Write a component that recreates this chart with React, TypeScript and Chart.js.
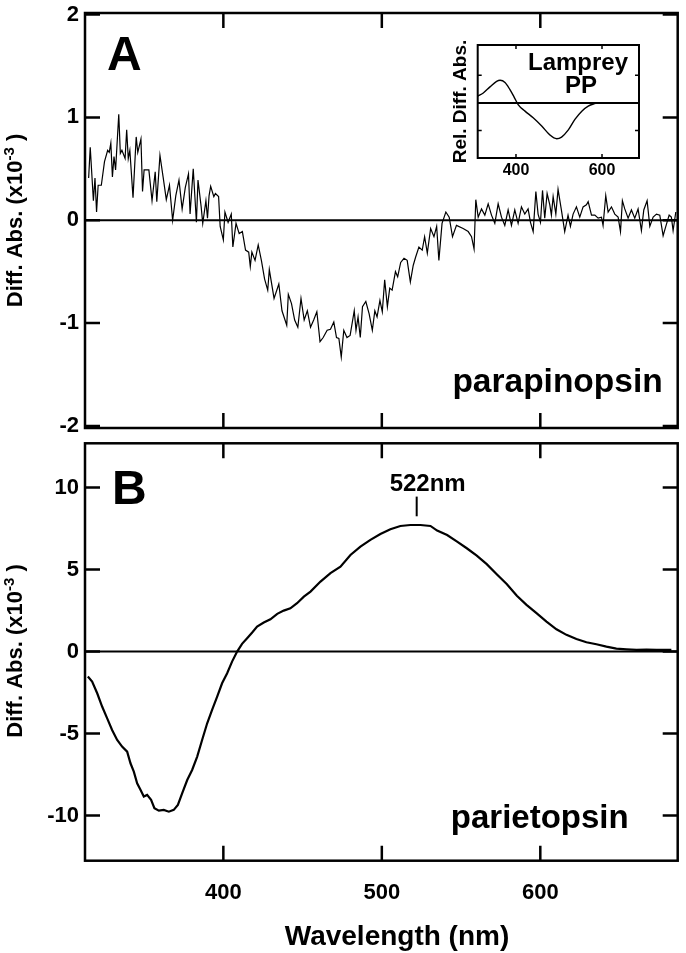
import React, { useEffect, useRef } from "react";
import { Chart, registerables } from "chart.js";

Chart.register(...registerables);

// ---------------- data ----------------
const X_MIN = 312.7;
const X_MAX = 686.7;
const xTicks = [400, 500, 600];
const yTicksA = [-2, -1, 0, 1, 2];
const yTicksB = [-10, -5, 0, 5, 10];
const insetXTicks = [400, 600];
const insetYTicks = [-0.5, 0, 0.5];

// Panel A: parapinopsin difference spectrum (x10^-3)
const wlA = [
  315, 316, 318, 319, 320, 321, 323, 325, 327, 328, 329, 330, 331, 332, 334, 335, 336, 338, 339, 340,
  341, 343, 345, 346, 348, 349, 350, 353, 355, 357, 358, 360, 362, 364, 366, 368, 370, 372, 374, 376,
  378, 379, 381, 383, 384, 386, 387, 389, 390, 391, 392, 394, 395, 397, 398, 400, 401, 403, 405, 406,
  408, 410, 412, 414, 416, 417, 418, 420, 422, 424, 426, 428, 429, 432, 435, 437, 440, 441, 443, 445,
  447, 449, 451, 453, 455, 457, 459, 461, 463, 465.5, 467.6, 469.7, 471.4, 472.9, 474.4, 476, 478, 480, 482.6, 483.7,
  485, 486.4, 487.8, 489.9, 492, 494, 495.6, 497, 498.8, 500.3, 501.8, 503.5, 505, 506.5, 508.6, 510, 511.9, 514, 516, 518,
  519.8, 521.3, 523.4, 525.5, 527, 528.7, 530.8, 532.9, 534.6, 536, 538, 540.4, 542.5, 544.6, 547.1, 551.3, 554.5, 556.6, 558.2, 559.3,
  560.8, 562.9, 565, 567.1, 569.2, 571.3, 573.4, 575.5, 577.6, 579.7, 581.8, 583.9, 586, 588.1, 590.2, 592.3, 593.8, 595.5, 597.2, 598.6,
  600.1, 601.4, 602.8, 604.3, 606, 607, 608.1, 609.8, 611.2, 613.3, 615.4, 617.5, 619, 620.7, 622.8, 624.9, 627, 629.1, 630.2, 632.3,
  634.4, 636.5, 638.6, 639.6, 641.3, 642.8, 644.9, 647, 649.1, 650.6, 651.8, 653.3, 655.4, 657.5, 659.6, 661.7, 663.8, 665.3, 667.4, 669.1,
  671.2, 673.3, 675.4, 677.5, 679.2, 681.3, 682.7, 683.8, 685.5,
];
const absA = [
  0.41, 0.71, 0.19, 0.41, 0.08, 0.34, 0.34, 0.57, 0.68, 0.66, 0.75, 0.42, 0.62, 0.49, 1.03, 0.65, 0.68, 0.6, 0.88, 0.6,
  0.68, 0.22, 0.81, 0.66, 0.79, 0.28, 0.49, 0.49, 0.19, 0.47, 0.18, 0.63, 0.42, 0.2, 0.34, 0.0, 0.24, 0.39, 0.11, 0.32,
  0.45, 0.06, 0.5, -0.02, 0.39, 0.13, -0.03, 0.19, 0.02, 0.24, 0.33, 0.23, 0.26, 0.23, -0.06, -0.19, 0.08, -0.02, 0.06, -0.26,
  -0.03, -0.13, -0.11, -0.29, -0.31, -0.45, -0.31, -0.39, -0.24, -0.39, -0.57, -0.68, -0.48, -0.76, -0.62, -0.88, -1.02, -0.72, -0.81, -0.97,
  -1.04, -0.76, -0.97, -0.88, -1.04, -0.97, -0.89, -1.18, -1.14, -1.07, -1.06, -0.99, -1.14, -1.15, -1.33, -1.07, -1.14, -1.12, -0.88, -1.07,
  -0.94, -1.14, -0.84, -0.79, -0.91, -1.07, -0.88, -0.94, -0.78, -0.89, -0.58, -0.84, -0.66, -0.68, -0.5, -0.55, -0.41, -0.37, -0.39, -0.6,
  -0.44, -0.36, -0.26, -0.29, -0.16, -0.32, -0.08, -0.16, -0.06, -0.39, -0.03, 0.08, 0.03, -0.16, -0.05, -0.08, -0.11, -0.16, -0.28, 0.2,
  0.03, 0.11, 0.05, 0.16, 0.05, -0.03, 0.16, 0.03, -0.05, 0.1, -0.05, 0.1, -0.03, 0.13, 0.06, 0.11, -0.02, -0.11, 0.28, 0.06,
  -0.02, 0.29, 0.02, 0.26, 0.15, 0.05, 0.23, 0.06, 0.3, 0.1, -0.11, 0.05, -0.06, 0.06, 0.13, 0.03, 0.13, 0.15, 0.18, 0.05,
  0.05, 0.02, 0.03, -0.05, 0.24, 0.08, 0.13, 0.06, 0.03, -0.11, 0.19, 0.11, 0.02, 0.1, 0.02, 0.11, -0.1, 0.1, 0.19, -0.06,
  0.03, 0.06, 0.05, -0.15, -0.06, 0.05, 0.03, -0.1, 0.08,
];

// Panel B: parietopsin difference spectrum (x10^-3)
const wlB = [
  314.5, 317.2, 320.4, 323.5, 326.7, 329.8, 333, 336.1, 339.3, 341.4, 343.5, 345.6, 347.7, 349.8, 351.9, 354.4, 356.5, 359.3, 362.4, 365.6,
  368.7, 371.3, 374, 377.2, 380.3, 383.5, 386.6, 389.8, 392.9, 396.1, 399.2, 402.4, 405.5, 408.7, 411.8, 415, 418.2, 421.3, 425.5, 429.7,
  434, 438.1, 442.3, 446.5, 450.8, 455, 461.3, 467.6, 473.9, 480.2, 486.5, 492.8, 499.1, 505.4, 511.7, 518, 524.4, 530.7, 534.9, 541.2,
  547.5, 553.6, 559.9, 566.2, 572.5, 578.8, 585.2, 591.3, 597.6, 603.9, 610.2, 616.5, 622.8, 629.1, 635.4, 641.7, 648, 654.4, 660.7, 667,
  673.3, 682.7,
];
const absB = [
  -1.52, -1.83, -2.54, -3.35, -4.07, -4.78, -5.39, -5.79, -6.1, -6.81, -7.32, -8.03, -8.43, -8.84, -8.74, -9.04, -9.55, -9.7, -9.65, -9.76,
  -9.65, -9.35, -8.64, -7.83, -7.22, -6.4, -5.39, -4.37, -3.56, -2.74, -1.93, -1.32, -0.61, 0.0, 0.47, 0.81, 1.16, 1.52, 1.77, 1.97,
  2.3, 2.5, 2.64, 2.95, 3.35, 3.66, 4.27, 4.78, 5.18, 5.89, 6.4, 6.81, 7.17, 7.46, 7.66, 7.72, 7.72, 7.66, 7.38, 7.11,
  6.71, 6.3, 5.85, 5.33, 4.72, 4.12, 3.4, 2.85, 2.34, 1.83, 1.36, 1.02, 0.77, 0.57, 0.45, 0.3, 0.18, 0.14, 0.1, 0.12,
  0.1, 0.1,
];

// Inset: lamprey parapinopsin (relative)
const wlInset = [311, 324, 339.6, 355, 363, 374.5, 386, 395.4, 405, 421, 440, 459.8, 478.6, 494.7, 506, 521.7, 537, 553, 568, 580, 591, 600];
const absInset = [0.12, 0.18, 0.29, 0.39, 0.41, 0.37, 0.24, 0.11, -0.03, -0.15, -0.27, -0.42, -0.58, -0.65, -0.62, -0.49, -0.3, -0.15, -0.06, -0.02, 0, 0];

const PEAK_NM = 522;
const PEAK_LABEL = "522nm";

// ---------------- drawing helpers ----------------
const FONT = "'Liberation Sans', Arial, Helvetica, sans-serif";

function drawYTitle(ctx: CanvasRenderingContext2D, x: number, y: number) {
  const main = "Diff. Abs. (x10";
  const sup = "-3";
  const end = " )";
  ctx.save();
  ctx.translate(x, y);
  ctx.rotate(-Math.PI / 2);
  ctx.fillStyle = "#000";
  ctx.textBaseline = "alphabetic";
  ctx.textAlign = "left";
  ctx.font = `bold 22px ${FONT}`;
  const w1 = ctx.measureText(main).width;
  const w3 = ctx.measureText(end).width;
  ctx.font = `bold 15px ${FONT}`;
  const w2 = ctx.measureText(sup).width;
  let cx = -(w1 + w2 + w3) / 2;
  ctx.font = `bold 22px ${FONT}`;
  ctx.fillText(main, cx, 0);
  cx += w1;
  ctx.font = `bold 15px ${FONT}`;
  ctx.fillText(sup, cx, -8);
  cx += w2;
  ctx.font = `bold 22px ${FONT}`;
  ctx.fillText(end, cx, 0);
  ctx.restore();
}

function text(ctx: CanvasRenderingContext2D, s: string, x: number, y: number, size: number, align: CanvasTextAlign) {
  ctx.save();
  ctx.fillStyle = "#000";
  ctx.font = `bold ${size}px ${FONT}`;
  ctx.textAlign = align;
  ctx.textBaseline = "alphabetic";
  ctx.fillText(s, x, y);
  ctx.restore();
}

type FrameCfg = {
  xt: number[];
  yt: number[];
  tickLen: number;
  tickW: number;
  frameW: number;
  zeroW: number;
  extra?: (chart: any) => void;
};

function framePlugin(cfg: FrameCfg) {
  return {
    id: "frame",
    beforeDatasetsDraw(chart: any) {
      const { ctx, chartArea, scales } = chart;
      const y0 = scales.y.getPixelForValue(0);
      ctx.save();
      ctx.strokeStyle = "#000";
      ctx.lineWidth = cfg.zeroW;
      ctx.beginPath();
      ctx.moveTo(chartArea.left, y0);
      ctx.lineTo(chartArea.right, y0);
      ctx.stroke();
      ctx.restore();
    },
    afterDatasetsDraw(chart: any) {
      const { ctx, chartArea, scales } = chart;
      const { left, right, top, bottom } = chartArea;
      ctx.save();
      ctx.strokeStyle = "#000";
      ctx.lineWidth = cfg.tickW;
      ctx.beginPath();
      cfg.xt.forEach((v) => {
        const x = scales.x.getPixelForValue(v);
        ctx.moveTo(x, bottom);
        ctx.lineTo(x, bottom - cfg.tickLen);
        ctx.moveTo(x, top);
        ctx.lineTo(x, top + cfg.tickLen);
      });
      cfg.yt.forEach((v) => {
        const y = scales.y.getPixelForValue(v);
        ctx.moveTo(left, y);
        ctx.lineTo(left + cfg.tickLen, y);
        ctx.moveTo(right, y);
        ctx.lineTo(right - cfg.tickLen, y);
      });
      ctx.stroke();
      ctx.lineWidth = cfg.frameW;
      ctx.strokeRect(left, top, right - left, bottom - top);
      ctx.restore();
      if (cfg.extra) cfg.extra(chart);
    },
  };
}

function setTicks(vals: number[]) {
  return (s: any) => {
    s.ticks = vals.map((v) => ({ value: v }));
  };
}

function baseOptions(padding: any) {
  return {
    animation: false,
    responsive: false,
    devicePixelRatio: 1,
    events: [],
    layout: { padding },
    plugins: { legend: { display: false }, tooltip: { enabled: false } },
  };
}

function cfgA(): any {
  return {
    type: "line",
    data: {
      datasets: [
        {
          data: wlA.map((x, i) => ({ x, y: absA[i] })),
          borderColor: "#000",
          borderWidth: 1.2,
          pointRadius: 0,
          tension: 0,
          fill: false,
        },
      ],
    },
    options: {
      ...baseOptions({ left: 0, top: 33, right: 8.3, bottom: 0 }),
      scales: {
        x: {
          type: "linear",
          min: X_MIN,
          max: X_MAX,
          grid: { display: false, drawTicks: false },
          border: { display: false },
          ticks: { display: false },
          afterBuildTicks: setTicks(xTicks),
          afterFit: (s: any) => {
            s.height = 32;
          },
        },
        y: {
          type: "linear",
          min: -2.02,
          max: 2.015,
          grid: { display: false, drawTicks: false },
          border: { display: false },
          ticks: {
            color: "#000",
            padding: 6,
            font: { family: FONT, size: 22, weight: "bold", lineHeight: 1 },
            callback: (v: any) => String(v),
          },
          afterBuildTicks: setTicks(yTicksA),
          afterFit: (s: any) => {
            s.width = 85;
          },
        },
      },
    },
    plugins: [
      framePlugin({
        xt: xTicks,
        yt: yTicksA,
        tickLen: 15,
        tickW: 2.5,
        frameW: 2.5,
        zeroW: 2,
        extra: (chart: any) => {
          const { ctx, chartArea } = chart;
          text(ctx, "A", chartArea.left + 22, chartArea.top + 57, 48, "left");
          text(ctx, "parapinopsin", chartArea.right - 15, chartArea.bottom - 36, 33.5, "right");
          drawYTitle(ctx, 22, (chartArea.top + chartArea.bottom) / 2);
        },
      }),
    ],
  };
}

function cfgB(): any {
  return {
    type: "line",
    data: {
      datasets: [
        {
          data: wlB.map((x, i) => ({ x, y: absB[i] })),
          borderColor: "#000",
          borderWidth: 2.2,
          pointRadius: 0,
          tension: 0,
          fill: false,
        },
      ],
    },
    options: {
      ...baseOptions({ left: 0, top: 23.3, right: 8.3, bottom: 0 }),
      scales: {
        x: {
          type: "linear",
          min: X_MIN,
          max: X_MAX,
          grid: { display: false, drawTicks: false },
          border: { display: false },
          ticks: {
            color: "#000",
            padding: 21,
            maxRotation: 0,
            font: { family: FONT, size: 22, weight: "bold", lineHeight: 1 },
            callback: (v: any) => String(v),
          },
          afterBuildTicks: setTicks(xTicks),
          afterFit: (s: any) => {
            s.height = 92.3;
          },
        },
        y: {
          type: "linear",
          min: -12.75,
          max: 12.7,
          grid: { display: false, drawTicks: false },
          border: { display: false },
          ticks: {
            color: "#000",
            padding: 6,
            font: { family: FONT, size: 22, weight: "bold", lineHeight: 1 },
            callback: (v: any) => String(v),
          },
          afterBuildTicks: setTicks(yTicksB),
          afterFit: (s: any) => {
            s.width = 85;
          },
        },
      },
    },
    plugins: [
      framePlugin({
        xt: xTicks,
        yt: yTicksB,
        tickLen: 15,
        tickW: 2.5,
        frameW: 2.5,
        zeroW: 2,
        extra: (chart: any) => {
          const { ctx, chartArea, scales } = chart;
          text(ctx, "B", chartArea.left + 27, chartArea.top + 61, 48, "left");
          text(ctx, "parietopsin", chartArea.right - 49, chartArea.bottom - 33, 33, "right");
          const px = scales.x.getPixelForValue(PEAK_NM);
          const yTop = scales.y.getPixelForValue(9.45);
          const yBot = scales.y.getPixelForValue(8.25);
          ctx.save();
          ctx.strokeStyle = "#000";
          ctx.lineWidth = 2;
          ctx.beginPath();
          ctx.moveTo(px, yTop);
          ctx.lineTo(px, yBot);
          ctx.stroke();
          ctx.restore();
          text(ctx, PEAK_LABEL, px + 11, yTop - 6, 24, "center");
          drawYTitle(ctx, 22, (chartArea.top + chartArea.bottom) / 2 - 1);
          text(ctx, "Wavelength (nm)", 397, 525, 28, "center");
        },
      }),
    ],
  };
}

function cfgInset(): any {
  return {
    type: "line",
    data: {
      datasets: [
        {
          data: wlInset.map((x, i) => ({ x, y: absInset[i] })),
          borderColor: "#000",
          borderWidth: 1.4,
          pointRadius: 0,
          tension: 0.4,
          cubicInterpolationMode: "monotone",
          fill: false,
        },
      ],
    },
    options: {
      ...baseOptions({ left: 0, top: 25, right: 7, bottom: 0 }),
      scales: {
        x: {
          type: "linear",
          min: 311,
          max: 686,
          grid: { display: false, drawTicks: false },
          border: { display: false },
          ticks: {
            color: "#000",
            padding: 5,
            maxRotation: 0,
            font: { family: FONT, size: 16, weight: "bold", lineHeight: 1 },
            callback: (v: any) => String(v),
          },
          afterBuildTicks: setTicks(insetXTicks),
          afterFit: (s: any) => {
            s.height = 37;
          },
        },
        y: {
          type: "linear",
          min: -1.0,
          max: 1.05,
          grid: { display: false, drawTicks: false },
          border: { display: false },
          ticks: { display: false },
          title: {
            display: true,
            text: "Rel. Diff. Abs.",
            color: "#000",
            padding: { top: 9.6, bottom: 0 },
            font: { family: FONT, size: 19, weight: "bold", lineHeight: 1.2 },
          },
          afterBuildTicks: setTicks(insetYTicks),
          afterFit: (s: any) => {
            s.width = 37.7;
          },
        },
      },
    },
    plugins: [
      framePlugin({
        xt: insetXTicks,
        yt: insetYTicks,
        tickLen: 4,
        tickW: 1.5,
        frameW: 2,
        zeroW: 2,
        extra: (chart: any) => {
          const { ctx } = chart;
          text(ctx, "Lamprey", 138, 50, 24, "center");
          text(ctx, "PP", 141, 73, 24, "center");
        },
      }),
    ],
  };
}

export default function App() {
  const refA = useRef<HTMLCanvasElement>(null);
  const refB = useRef<HTMLCanvasElement>(null);
  const refI = useRef<HTMLCanvasElement>(null);

  useEffect(() => {
    const charts: Chart[] = [];
    if (refA.current) charts.push(new Chart(refA.current, cfgA()));
    if (refB.current) charts.push(new Chart(refB.current, cfgB()));
    if (refI.current) charts.push(new Chart(refI.current, cfgInset()));
    return () => charts.forEach((c) => c.destroy());
  }, []);

  return (
    <div
      style={{
        position: "absolute",
        left: 0,
        top: 0,
        width: 686,
        height: 953,
        overflow: "hidden",
        background: "#fff",
      }}
    >
      <canvas ref={refA} width={686} height={480} style={{ position: "absolute", left: 0, top: -20, width: 686, height: 480 }} />
      <canvas ref={refB} width={686} height={533} style={{ position: "absolute", left: 0, top: 420, width: 686, height: 533 }} />
      <canvas ref={refI} width={206} height={175} style={{ position: "absolute", left: 440, top: 20, width: 206, height: 175 }} />
    </div>
  );
}
